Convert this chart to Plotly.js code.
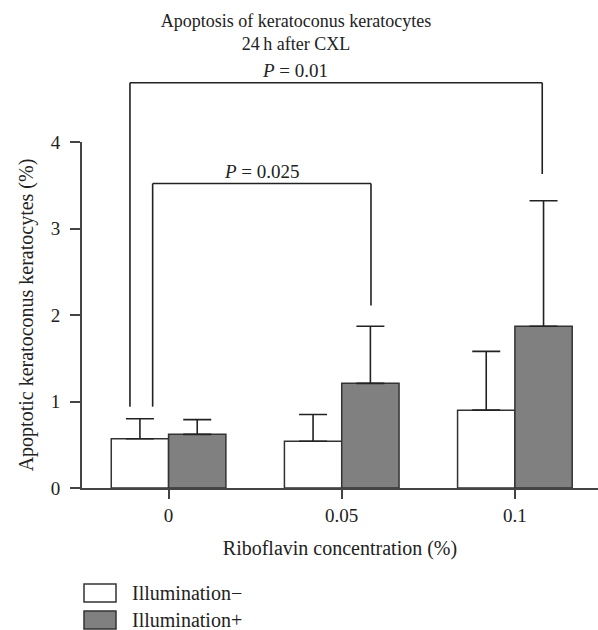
<!DOCTYPE html>
<html>
<head>
<meta charset="utf-8">
<script src="https://cdn.plot.ly/plotly-3.0.1.min.js"></script>
<style>html,body{margin:0;padding:0;background:#fff;}#chart{width:598px;height:630px;}</style>
</head>
<body>
<div id="chart"></div>
<script>
// ---- data ----
const categories = ['0', '0.05', '0.1'];          // riboflavin concentration (%)
const seriesNames = ['Illumination\u2212', 'Illumination+'];
const seriesColors = ['#ffffff', '#808080'];
const illumMinus = [0.57, 0.54, 0.90];
const illumMinusErr = [0.23, 0.31, 0.68];
const illumPlus = [0.62, 1.21, 1.87];
const illumPlusErr = [0.17, 0.66, 1.45];
const yTicks = [0, 1, 2, 3, 4];

// significance brackets
const bracketLabels = ['P = 0.025', 'P = 0.01'];
const bracketHeights = [3.52, 4.685];
const bracketLeftX = [-0.092, -0.223];
const bracketRightX = [1.169, 2.158];
const bracketLeftEnd = [0.94, 0.94];
const bracketRightEnd = [2.11, 3.63];
const bracketLabelX = [0.54, 0.73];

const yMax = 4;
const xIdx = categories.map((c, i) => i);
const FONT = 'Liberation Serif, Times New Roman, serif';
const INK = '#222';
const W = 598, H = 630, M = {l: 82, r: 0, t: 142, b: 142};
const plotW = W - M.l - M.r, plotH = H - M.t - M.b;
const px2x = p => (p - M.l) / plotW;
const py2y = p => (H - M.b - p) / plotH;

function barTrace(name, vals, errs, color) {
  return {
    type: 'bar', name: name, x: xIdx, y: vals, showlegend: false,
    marker: {color: color, line: {color: '#333', width: 1.5}},
    error_y: {type: 'data', symmetric: false, array: errs, arrayminus: errs.map(() => 0),
              color: INK, thickness: 1.6, width: 14},
    hoverinfo: 'skip'
  };
}

const traces = [
  barTrace(seriesNames[0], illumMinus, illumMinusErr, seriesColors[0]),
  barTrace(seriesNames[1], illumPlus, illumPlusErr, seriesColors[1])
];

const shapes = [];
const annotations = [];
bracketLabels.forEach((lab, i) => {
  const yTop = bracketHeights[i] / yMax;
  const lineStyle = {color: INK, width: 1.6};
  shapes.push({type: 'line', xref: 'x', yref: 'paper', x0: bracketLeftX[i], x1: bracketRightX[i], y0: yTop, y1: yTop, line: lineStyle});
  shapes.push({type: 'line', xref: 'x', yref: 'paper', x0: bracketLeftX[i], x1: bracketLeftX[i], y0: yTop, y1: bracketLeftEnd[i] / yMax, line: lineStyle});
  shapes.push({type: 'line', xref: 'x', yref: 'paper', x0: bracketRightX[i], x1: bracketRightX[i], y0: yTop, y1: bracketRightEnd[i] / yMax, line: lineStyle});
  annotations.push({
    xref: 'x', yref: 'paper', x: bracketLabelX[i], y: yTop, yanchor: 'bottom', yshift: 0,
    text: lab.replace('P', '<i>P</i>'), showarrow: false,
    font: {family: FONT, size: 19, color: INK}
  });
});

// legend (boxes + labels) below the chart
seriesNames.forEach((name, i) => {
  const top = 584 + i * 27, bottom = top + 18;
  shapes.push({type: 'rect', xref: 'paper', yref: 'paper',
    x0: px2x(84), x1: px2x(116), y0: py2y(bottom), y1: py2y(top),
    fillcolor: seriesColors[i], line: {color: '#333', width: 1.5}});
  annotations.push({xref: 'paper', yref: 'paper', x: px2x(130), y: py2y((top + bottom) / 2),
    xanchor: 'left', yanchor: 'middle', text: name, showarrow: false,
    font: {family: FONT, size: 20, color: INK}});
});

const layout = {
  width: W, height: H,
  margin: {l: M.l, r: M.r, t: M.t, b: M.b, autoexpand: false},
  paper_bgcolor: '#fff', plot_bgcolor: '#fff',
  font: {family: FONT, size: 19, color: INK},
  title: {
    text: 'Apoptosis of keratoconus keratocytes<br>24\u2009h after CXL',
    font: {family: FONT, size: 18, color: INK},
    xref: 'container', x: 0.495, xanchor: 'center',
    yref: 'container', y: 1, yanchor: 'top', pad: {t: 27}
  },
  barmode: 'group', bargap: 0.338, bargroupgap: 0,
  xaxis: {
    range: [-0.5, 2.48], tickmode: 'array', tickvals: xIdx, ticktext: categories,
    showline: true, linecolor: '#444', linewidth: 2,
    ticks: 'outside', ticklen: 9, tickwidth: 2, tickcolor: '#444',
    showgrid: false, zeroline: false, ticklabelstandoff: 0,
    tickfont: {family: FONT, size: 19, color: INK},
    title: {text: 'Riboflavin concentration (%)', standoff: 16, font: {family: FONT, size: 20, color: INK}}
  },
  yaxis: {
    range: [0, yMax], tickmode: 'array', tickvals: yTicks,
    showline: true, linecolor: '#444', linewidth: 2,
    ticks: 'outside', ticklen: 10, tickwidth: 2, tickcolor: '#444',
    showgrid: false, zeroline: false, ticklabelstandoff: 6,
    tickfont: {family: FONT, size: 19, color: INK},
    title: {text: 'Apoptotic keratoconus keratocytes (%)', standoff: 12, font: {family: FONT, size: 20, color: INK}}
  },
  showlegend: false,
  shapes: shapes,
  annotations: annotations
};

Plotly.newPlot('chart', traces, layout, {displayModeBar: false, staticPlot: true});
</script>
</body>
</html>
